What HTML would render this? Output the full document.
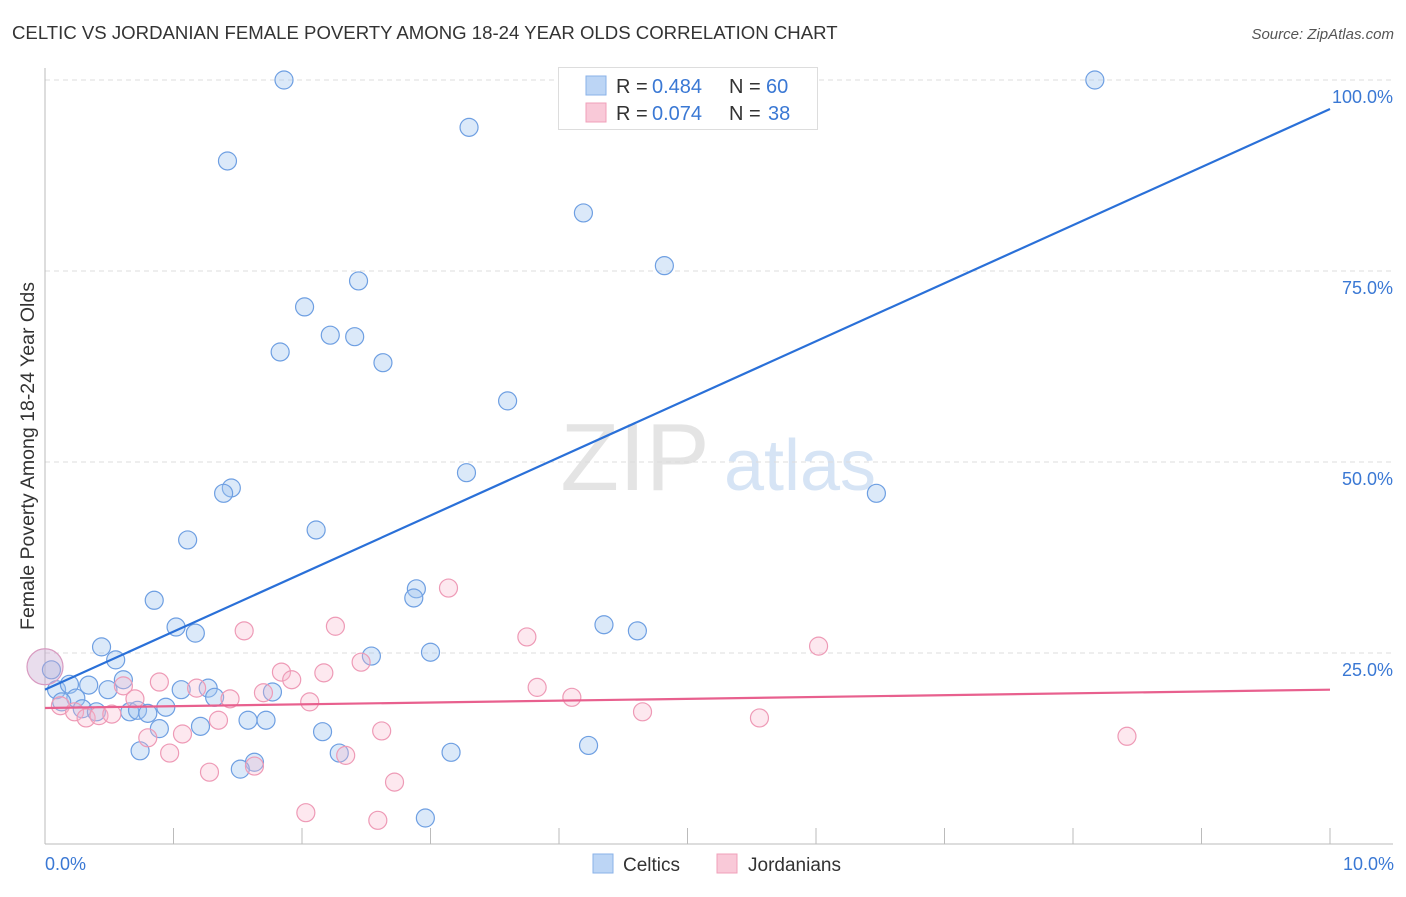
<!DOCTYPE html>
<html><head><meta charset="utf-8"><style>
body{margin:0;background:#fff;font-family:"Liberation Sans",sans-serif;}
svg text{font-family:"Liberation Sans",sans-serif;}
</style></head><body>
<svg id="chart" width="1406" height="892" viewBox="0 0 1406 892">
<text x="12" y="39" font-size="18.6" fill="#333">CELTIC VS JORDANIAN FEMALE POVERTY AMONG 18-24 YEAR OLDS CORRELATION CHART</text>
<text x="1394" y="39" font-size="15" fill="#555" font-style="italic" text-anchor="end">Source: ZipAtlas.com</text>
<text x="635" y="490" font-size="96" fill="#e4e4e4" font-family="Liberation Serif" text-anchor="middle">ZIP</text>
<text x="800" y="490" font-size="72" fill="#d6e4f5" text-anchor="middle">atlas</text>
<g id="grid"></g>
<g id="axes"></g>
<g id="pts"></g>
<g id="trend"></g>
<text transform="translate(34,456) rotate(-90)" font-size="19.5" fill="#333" text-anchor="middle">Female Poverty Among 18-24 Year Olds</text>
<text x="45" y="870" font-size="18" fill="#3a78d4">0.0%</text>
<text x="1394" y="870" font-size="18" fill="#3a78d4" text-anchor="end">10.0%</text>
<g>
<rect x="558.5" y="67.5" width="259" height="62" fill="#fff" stroke="#ddd"/>
<rect x="586" y="76" width="20" height="19" fill="#bcd5f5" stroke="#8ab2e8"/>
<rect x="586" y="103" width="20" height="19" fill="#f9c9d8" stroke="#f0a0ba"/>
<text x="616" y="93" font-size="20" fill="#333">R =</text>
<text x="652" y="93" font-size="20" fill="#3a78d4">0.484</text>
<text x="729" y="93" font-size="20" fill="#333">N =</text>
<text x="766" y="93" font-size="20" fill="#3a78d4">60</text>
<text x="616" y="120" font-size="20" fill="#333">R =</text>
<text x="652" y="120" font-size="20" fill="#3a78d4">0.074</text>
<text x="729" y="120" font-size="20" fill="#333">N =</text>
<text x="768" y="120" font-size="20" fill="#3a78d4">38</text>
</g>
<g>
<rect x="593" y="854" width="20" height="19" fill="#bcd5f5" stroke="#8ab2e8"/>
<text x="623" y="871" font-size="19" fill="#333">Celtics</text>
<rect x="717" y="854" width="20" height="19" fill="#f9c9d8" stroke="#f0a0ba"/>
<text x="748" y="871" font-size="19" fill="#333">Jordanians</text>
</g>
</svg>
<script>
const yTicks=[25,50,75,100];
const yTickLabels=["25.0%","50.0%","75.0%","100.0%"];
const xTicks=[0,1,2,3,4,5,6,7,8,9,10];
const celticX=[1.86,8.17,3.30,1.42,4.19,4.82,2.44,2.02,2.22,2.41,1.83,2.63,3.60,3.28,6.47,1.45,1.39,2.11,1.11,2.89,2.87,0.85,1.02,1.17,4.35,4.61,0.44,2.54,3.00,0.55,0.09,0.19,0.34,0.61,0.49,1.06,1.27,1.77,1.32,0.24,0.13,0.29,0.40,0.66,0.72,0.80,0.94,0.89,1.21,1.58,1.72,2.16,0.74,2.29,1.63,1.52,3.16,4.23,2.96,0.05];
const celticY=[100,100,93.8,89.4,82.6,75.7,73.7,70.3,66.6,66.4,64.4,63.0,58.0,48.6,45.9,46.6,45.9,41.1,39.8,33.4,32.2,31.9,28.4,27.6,28.7,27.9,25.8,24.6,25.1,24.1,20.2,20.9,20.8,21.5,20.2,20.2,20.4,19.9,19.2,19.1,18.6,17.7,17.3,17.3,17.5,17.1,17.9,15.1,15.4,16.2,16.2,14.7,12.2,11.9,10.7,9.8,12.0,12.9,3.4,22.8];
const jordX=[3.14,2.26,1.55,3.75,6.02,0.89,1.18,1.44,1.84,1.92,2.17,2.46,1.70,2.06,0.61,0.70,4.10,3.83,4.65,5.56,1.35,0.12,0.23,0.32,0.42,0.52,0.80,1.07,0.97,1.28,1.63,2.62,2.34,2.72,2.03,2.59,8.42];
const jordY=[33.5,28.5,27.9,27.1,25.9,21.2,20.4,19.0,22.5,21.5,22.4,23.8,19.8,18.6,20.7,19.0,19.2,20.5,17.3,16.5,16.2,18.1,17.3,16.5,16.8,17.0,13.9,14.4,11.9,9.4,10.2,14.8,11.6,8.1,4.1,3.1,14.1];
const bigX=[0],bigY=[23.2];
const celticTrend=[20.2,96.2];
const jordTrend=[17.8,20.2];
const NS="http://www.w3.org/2000/svg";
const sx=v=>45+v*128.5, sy=v=>844-v*7.64;
function mk(tag,attrs,parent){const e=document.createElementNS(NS,tag);for(const k in attrs)e.setAttribute(k,attrs[k]);document.getElementById(parent).appendChild(e);return e;}
yTicks.forEach((t,i)=>{
 const l=mk('line',{x1:45,x2:1393,y1:sy(t),y2:sy(t),stroke:'#ddd','stroke-dasharray':'5,4'},'grid');
 
 
 const tx=mk('text',{x:1393,y:sy(t)+23,'font-size':18,fill:'#3a78d4','text-anchor':'end'},'grid');
 tx.textContent=yTickLabels[i];
 
 
});
const ya=mk('line',{x1:45,x2:45,y1:68,y2:844,stroke:'#bbb'},'axes');


const xa=mk('line',{x1:45,x2:1393,y1:844,y2:844,stroke:'#bbb'},'axes');


xTicks.forEach(t=>{
 const l=mk('line',{x1:sx(t),x2:sx(t),y1:828,y2:844,stroke:'#bbb'},'axes');
 
 
});
function dots(xs,ys,fill,stroke,name,r){
 xs.forEach((x,i)=>{
  const c=mk('circle',{cx:sx(x),cy:sy(ys[i]),r:r,fill:fill,stroke:stroke,'stroke-width':1.2},'pts');
  
  
 });
}
dots(celticX,celticY,'rgba(160,196,240,0.38)','#6e9fe2','celtic-point',9);
dots(jordX,jordY,'rgba(248,185,205,0.32)','#ee9ab6','jordanian-point',9);
dots(bigX,bigY,'rgba(200,170,210,0.4)','#d89ac0','combined-point',18);
const t1=mk('line',{x1:sx(0),x2:sx(10),y1:sy(celticTrend[0]),y2:sy(celticTrend[1]),stroke:'#2a70d8','stroke-width':2.2},'trend');


const t2=mk('line',{x1:sx(0),x2:sx(10),y1:sy(jordTrend[0]),y2:sy(jordTrend[1]),stroke:'#e8608e','stroke-width':2.2},'trend');


</script>
</body></html>
